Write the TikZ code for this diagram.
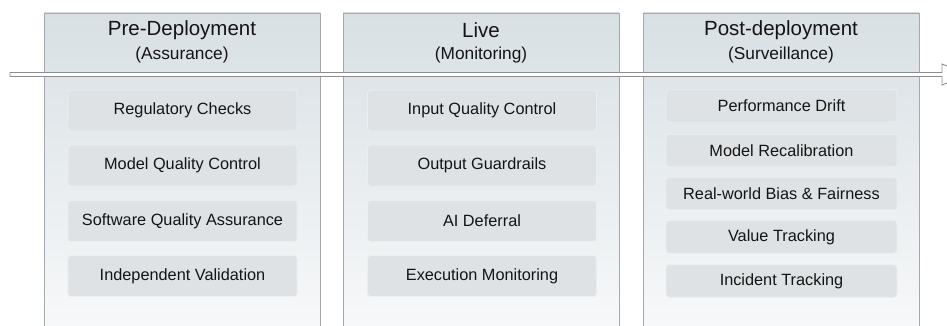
\documentclass[tikz,border=0pt]{standalone}
\usepackage{fontspec}
\setmainfont{Liberation Sans}
\definecolor{colTop}{HTML}{D8E0E4}
\definecolor{colBot}{HTML}{F7F8F9}
\definecolor{colLine}{HTML}{A4A8AB}
\definecolor{boxFill}{HTML}{DFE2E4}
\definecolor{boxLine}{HTML}{ECEEEF}
\definecolor{txt}{HTML}{141414}
\definecolor{arrLine}{HTML}{8C8C8C}
\tikzset{
  column/.style={inner sep=0pt, outer sep=0pt, minimum width=276pt, minimum height=313pt,
    top color=colTop, bottom color=colBot, draw=none},
  colborder/.style={draw=colLine, line width=0.9pt},
  title/.style={text=txt, font=\fontsize{20.5}{24}\selectfont, inner sep=0pt},
  subtitle/.style={text=txt, font=\fontsize{17.3}{20}\selectfont, inner sep=0pt},
  item/.style={text=txt, font=\fontsize{16.3}{19}\selectfont, fill=boxFill, draw=boxLine,
    line width=0.8pt, rounded corners=3pt, inner sep=0pt, minimum width=229pt},
  tallitem/.style={item, minimum height=41pt},
  shortitem/.style={item, minimum height=32.5pt, minimum width=231pt},
  arrowline/.style={draw=arrLine, fill=white, line width=0.9pt, line join=miter}
}
\begin{document}
\begin{tikzpicture}[x=1pt,y=-1pt]
\useasboundingbox (0,0) rectangle (947,326);
% columns
\node[column] (c1) at (182,169.5) {};
\node[column] (c2) at (481,169.5) {};
\node[column] (c3) at (781,169.5) {};
\foreach \c in {c1,c2,c3}{
  \draw[colborder] (\c.south west) -- (\c.north west) -- (\c.north east) -- (\c.south east);
}
% titles
\node[title] (t1) at (182,30.5) {Pre-Deployment};
\node[subtitle] (s1) at (182,55.5) {(Assurance)};
\node[title] (t2) at (481,30.5) {Live};
\node[subtitle] (s2) at (481,55.5) {(Monitoring)};
\node[title] (t3) at (781,30.5) {Post-deployment};
\node[subtitle] (s3) at (781,55.5) {(Surveillance)};
% items column 1
\node[tallitem] (a1) at (182.5,110.5) {Regulatory Checks};
\node[tallitem] (a2) at (182.5,165.5) {Model Quality Control};
\node[tallitem] (a3) at (182.5,221) {Software Quality Assurance};
\node[tallitem] (a4) at (182.5,276) {Independent Validation};
% items column 2
\node[tallitem] (b1) at (482,110.5) {Input Quality Control};
\node[tallitem] (b2) at (482,165.5) {Output Guardrails};
\node[tallitem] (b3) at (482,221) {AI Deferral};
\node[tallitem] (b4) at (482,276) {Execution Monitoring};
% items column 3
\node[shortitem] (d1) at (781.5,106) {Performance Drift};
\node[shortitem] (d2) at (781.5,150.5) {Model Recalibration};
\node[shortitem] (d3) at (781.5,193.5) {Real-world Bias \& Fairness};
\node[shortitem] (d4) at (781.5,237) {Value Tracking};
\node[shortitem] (d5) at (781.5,281) {Incident Tracking};
% timeline arrow
\coordinate (as) at (10,74.5);
\coordinate (ae) at (942,74.5);
\draw[arrowline] (as) ++(0,-2) -- ++(932,0) -- ++(0,-8.5) -- ++(26,10.5)
  -- ++(-26,10.5) -- ++(0,-8.5) -- ++(-932,0) -- cycle;
\end{tikzpicture}
\end{document}
